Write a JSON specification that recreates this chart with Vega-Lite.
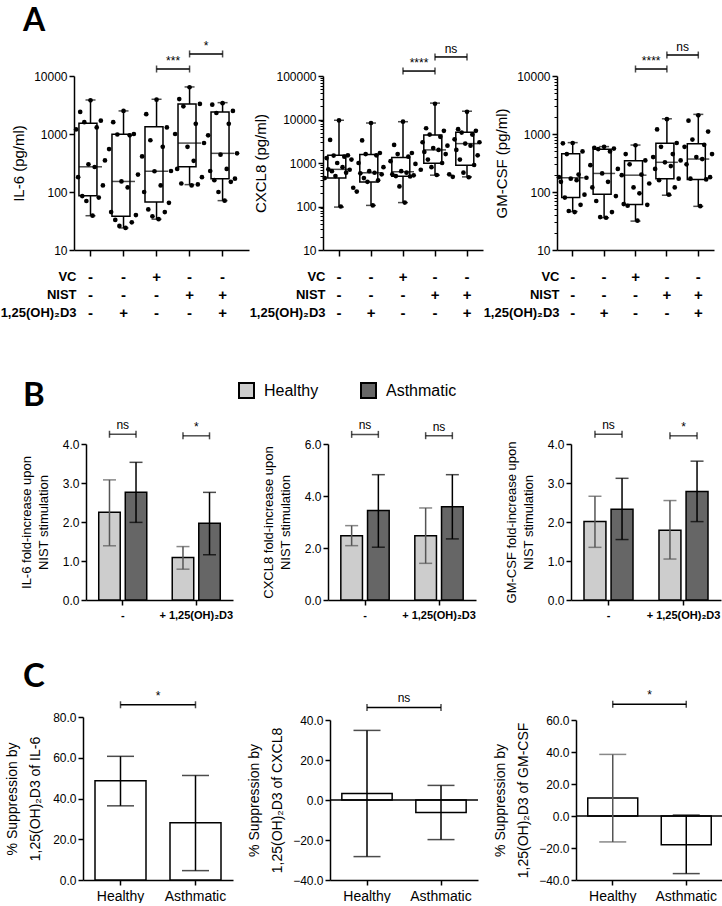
{
"$schema": "https://vega.github.io/schema/vega-lite/v6.json",
"background": "white",
"padding": {"left": 0, "top": 4, "right": 0, "bottom": 0},
"columns": 3,
"bounds": "flush",
"align": "each",
"spacing": {"row": 18, "column": 74},
"resolve": {"scale": {"x": "independent", "y": "independent", "xOffset": "independent", "color": "shared"}},
"datasets": {
"box": [
{"c":"IL6","g":"1","min":39,"q1":86,"med":272,"q3":1530,"max":3860},
{"c":"IL6","g":"2","min":24,"q1":38,"med":152,"q3":990,"max":2500},
{"c":"IL6","g":"3","min":34,"q1":67,"med":228,"q3":1336,"max":3970},
{"c":"IL6","g":"4","min":134,"q1":272,"med":697,"q3":3280,"max":6480},
{"c":"IL6","g":"5","min":71,"q1":169,"med":464,"q3":2400,"max":3470},
{"c":"CX","g":"1","min":97,"q1":454,"med":714,"q3":1500,"max":9600},
{"c":"CX","g":"2","min":106,"q1":364,"med":596,"q3":1560,"max":8300},
{"c":"CX","g":"3","min":123,"q1":497,"med":630,"q3":1340,"max":8900},
{"c":"CX","g":"4","min":525,"q1":990,"med":2000,"q3":4380,"max":23800},
{"c":"CX","g":"5","min":480,"q1":890,"med":2790,"q3":5080,"max":15500},
{"c":"GM","g":"1","min":46,"q1":80,"med":176,"q3":455,"max":710},
{"c":"GM","g":"2","min":36,"q1":91.5,"med":209,"q3":546,"max":606},
{"c":"GM","g":"3","min":31.5,"q1":61,"med":195,"q3":346,"max":645},
{"c":"GM","g":"4","min":88,"q1":169,"med":325,"q3":690,"max":1830},
{"c":"GM","g":"5","min":56.6,"q1":165,"med":370,"q3":677,"max":2180}
],
"pts": [
{"c":"IL6","g":"1","d":9,"v":3800},{"c":"IL6","g":"1","d":4,"v":2400},{"c":"IL6","g":"1","d":14,"v":1700},{"c":"IL6","g":"1","d":6,"v":1600},{"c":"IL6","g":"1","d":12,"v":1300},{"c":"IL6","g":"1","d":2,"v":1200},{"c":"IL6","g":"1","d":16,"v":350},{"c":"IL6","g":"1","d":8,"v":300},{"c":"IL6","g":"1","d":11,"v":270},{"c":"IL6","g":"1","d":3,"v":180},{"c":"IL6","g":"1","d":15,"v":130},{"c":"IL6","g":"1","d":5,"v":85},{"c":"IL6","g":"1","d":13,"v":80},{"c":"IL6","g":"1","d":7,"v":70},{"c":"IL6","g":"1","d":10,"v":39},
{"c":"IL6","g":"2","d":9,"v":2500},{"c":"IL6","g":"2","d":4,"v":1600},{"c":"IL6","g":"2","d":14,"v":1000},{"c":"IL6","g":"2","d":6,"v":980},{"c":"IL6","g":"2","d":12,"v":950},{"c":"IL6","g":"2","d":2,"v":550},{"c":"IL6","g":"2","d":16,"v":200},{"c":"IL6","g":"2","d":8,"v":152},{"c":"IL6","g":"2","d":11,"v":120},{"c":"IL6","g":"2","d":3,"v":45},{"c":"IL6","g":"2","d":15,"v":40},{"c":"IL6","g":"2","d":5,"v":33},{"c":"IL6","g":"2","d":13,"v":30},{"c":"IL6","g":"2","d":7,"v":26},{"c":"IL6","g":"2","d":10,"v":24},
{"c":"IL6","g":"3","d":9,"v":3900},{"c":"IL6","g":"3","d":4,"v":2200},{"c":"IL6","g":"3","d":14,"v":1300},{"c":"IL6","g":"3","d":6,"v":780},{"c":"IL6","g":"3","d":12,"v":600},{"c":"IL6","g":"3","d":2,"v":410},{"c":"IL6","g":"3","d":16,"v":230},{"c":"IL6","g":"3","d":8,"v":228},{"c":"IL6","g":"3","d":11,"v":130},{"c":"IL6","g":"3","d":3,"v":100},{"c":"IL6","g":"3","d":15,"v":65},{"c":"IL6","g":"3","d":5,"v":50},{"c":"IL6","g":"3","d":13,"v":45},{"c":"IL6","g":"3","d":7,"v":38},{"c":"IL6","g":"3","d":10,"v":34},
{"c":"IL6","g":"4","d":9,"v":6400},{"c":"IL6","g":"4","d":4,"v":4000},{"c":"IL6","g":"4","d":14,"v":3300},{"c":"IL6","g":"4","d":6,"v":3000},{"c":"IL6","g":"4","d":12,"v":1500},{"c":"IL6","g":"4","d":2,"v":1000},{"c":"IL6","g":"4","d":16,"v":700},{"c":"IL6","g":"4","d":8,"v":600},{"c":"IL6","g":"4","d":11,"v":345},{"c":"IL6","g":"4","d":3,"v":250},{"c":"IL6","g":"4","d":15,"v":180},{"c":"IL6","g":"4","d":5,"v":140},{"c":"IL6","g":"4","d":13,"v":135},{"c":"IL6","g":"4","d":10,"v":130},
{"c":"IL6","g":"5","d":9,"v":3400},{"c":"IL6","g":"5","d":4,"v":3200},{"c":"IL6","g":"5","d":14,"v":2500},{"c":"IL6","g":"5","d":6,"v":2300},{"c":"IL6","g":"5","d":12,"v":1500},{"c":"IL6","g":"5","d":2,"v":950},{"c":"IL6","g":"5","d":16,"v":464},{"c":"IL6","g":"5","d":8,"v":440},{"c":"IL6","g":"5","d":11,"v":250},{"c":"IL6","g":"5","d":3,"v":230},{"c":"IL6","g":"5","d":15,"v":170},{"c":"IL6","g":"5","d":5,"v":160},{"c":"IL6","g":"5","d":13,"v":150},{"c":"IL6","g":"5","d":7,"v":100},{"c":"IL6","g":"5","d":10,"v":71},
{"c":"CX","g":"1","d":9,"v":9500},{"c":"CX","g":"1","d":4,"v":3400},{"c":"CX","g":"1","d":14,"v":1500},{"c":"CX","g":"1","d":6,"v":1480},{"c":"CX","g":"1","d":12,"v":1400},{"c":"CX","g":"1","d":2,"v":1300},{"c":"CX","g":"1","d":16,"v":1200},{"c":"CX","g":"1","d":8,"v":1000},{"c":"CX","g":"1","d":11,"v":800},{"c":"CX","g":"1","d":3,"v":714},{"c":"CX","g":"1","d":15,"v":700},{"c":"CX","g":"1","d":5,"v":650},{"c":"CX","g":"1","d":13,"v":600},{"c":"CX","g":"1","d":7,"v":500},{"c":"CX","g":"1","d":1,"v":450},{"c":"CX","g":"1","d":17,"v":270},{"c":"CX","g":"1","d":10,"v":100},
{"c":"CX","g":"2","d":9,"v":8300},{"c":"CX","g":"2","d":4,"v":3300},{"c":"CX","g":"2","d":14,"v":1700},{"c":"CX","g":"2","d":6,"v":1600},{"c":"CX","g":"2","d":12,"v":1500},{"c":"CX","g":"2","d":2,"v":1000},{"c":"CX","g":"2","d":16,"v":800},{"c":"CX","g":"2","d":8,"v":650},{"c":"CX","g":"2","d":11,"v":596},{"c":"CX","g":"2","d":3,"v":580},{"c":"CX","g":"2","d":15,"v":550},{"c":"CX","g":"2","d":5,"v":450},{"c":"CX","g":"2","d":13,"v":400},{"c":"CX","g":"2","d":7,"v":370},{"c":"CX","g":"2","d":1,"v":220},{"c":"CX","g":"2","d":10,"v":106},
{"c":"CX","g":"3","d":9,"v":8900},{"c":"CX","g":"3","d":4,"v":2600},{"c":"CX","g":"3","d":14,"v":1700},{"c":"CX","g":"3","d":6,"v":1600},{"c":"CX","g":"3","d":12,"v":1400},{"c":"CX","g":"3","d":2,"v":1100},{"c":"CX","g":"3","d":16,"v":950},{"c":"CX","g":"3","d":8,"v":650},{"c":"CX","g":"3","d":11,"v":600},{"c":"CX","g":"3","d":3,"v":550},{"c":"CX","g":"3","d":15,"v":520},{"c":"CX","g":"3","d":5,"v":500},{"c":"CX","g":"3","d":13,"v":490},{"c":"CX","g":"3","d":7,"v":290},{"c":"CX","g":"3","d":10,"v":123},
{"c":"CX","g":"4","d":9,"v":23000},{"c":"CX","g":"4","d":4,"v":6300},{"c":"CX","g":"4","d":14,"v":5500},{"c":"CX","g":"4","d":6,"v":4500},{"c":"CX","g":"4","d":12,"v":4000},{"c":"CX","g":"4","d":2,"v":3000},{"c":"CX","g":"4","d":16,"v":2500},{"c":"CX","g":"4","d":8,"v":2200},{"c":"CX","g":"4","d":11,"v":2000},{"c":"CX","g":"4","d":3,"v":1800},{"c":"CX","g":"4","d":15,"v":1600},{"c":"CX","g":"4","d":5,"v":1200},{"c":"CX","g":"4","d":13,"v":1000},{"c":"CX","g":"4","d":7,"v":800},{"c":"CX","g":"4","d":1,"v":700},{"c":"CX","g":"4","d":17,"v":550},{"c":"CX","g":"4","d":10,"v":530},
{"c":"CX","g":"5","d":9,"v":15000},{"c":"CX","g":"5","d":4,"v":6000},{"c":"CX","g":"5","d":14,"v":5500},{"c":"CX","g":"5","d":6,"v":5000},{"c":"CX","g":"5","d":12,"v":4500},{"c":"CX","g":"5","d":2,"v":3500},{"c":"CX","g":"5","d":16,"v":3000},{"c":"CX","g":"5","d":8,"v":2800},{"c":"CX","g":"5","d":11,"v":2500},{"c":"CX","g":"5","d":3,"v":2000},{"c":"CX","g":"5","d":15,"v":1500},{"c":"CX","g":"5","d":5,"v":1200},{"c":"CX","g":"5","d":13,"v":900},{"c":"CX","g":"5","d":7,"v":600},{"c":"CX","g":"5","d":1,"v":480},{"c":"CX","g":"5","d":10,"v":470},
{"c":"GM","g":"1","d":9,"v":700},{"c":"GM","g":"1","d":4,"v":690},{"c":"GM","g":"1","d":14,"v":500},{"c":"GM","g":"1","d":6,"v":450},{"c":"GM","g":"1","d":12,"v":200},{"c":"GM","g":"1","d":2,"v":180},{"c":"GM","g":"1","d":16,"v":176},{"c":"GM","g":"1","d":8,"v":170},{"c":"GM","g":"1","d":11,"v":160},{"c":"GM","g":"1","d":3,"v":150},{"c":"GM","g":"1","d":15,"v":90},{"c":"GM","g":"1","d":5,"v":80},{"c":"GM","g":"1","d":13,"v":60},{"c":"GM","g":"1","d":7,"v":47},{"c":"GM","g":"1","d":10,"v":45},
{"c":"GM","g":"2","d":9,"v":600},{"c":"GM","g":"2","d":4,"v":580},{"c":"GM","g":"2","d":14,"v":560},{"c":"GM","g":"2","d":6,"v":550},{"c":"GM","g":"2","d":12,"v":500},{"c":"GM","g":"2","d":2,"v":290},{"c":"GM","g":"2","d":16,"v":250},{"c":"GM","g":"2","d":8,"v":209},{"c":"GM","g":"2","d":11,"v":150},{"c":"GM","g":"2","d":3,"v":120},{"c":"GM","g":"2","d":15,"v":85},{"c":"GM","g":"2","d":5,"v":70},{"c":"GM","g":"2","d":13,"v":45},{"c":"GM","g":"2","d":7,"v":37},{"c":"GM","g":"2","d":10,"v":36},
{"c":"GM","g":"3","d":9,"v":640},{"c":"GM","g":"3","d":4,"v":450},{"c":"GM","g":"3","d":14,"v":350},{"c":"GM","g":"3","d":6,"v":300},{"c":"GM","g":"3","d":12,"v":200},{"c":"GM","g":"3","d":2,"v":195},{"c":"GM","g":"3","d":16,"v":140},{"c":"GM","g":"3","d":8,"v":120},{"c":"GM","g":"3","d":11,"v":95},{"c":"GM","g":"3","d":3,"v":62},{"c":"GM","g":"3","d":15,"v":60},{"c":"GM","g":"3","d":5,"v":58},{"c":"GM","g":"3","d":10,"v":32},
{"c":"GM","g":"4","d":9,"v":1800},{"c":"GM","g":"4","d":4,"v":1200},{"c":"GM","g":"4","d":14,"v":700},{"c":"GM","g":"4","d":6,"v":600},{"c":"GM","g":"4","d":12,"v":450},{"c":"GM","g":"4","d":2,"v":400},{"c":"GM","g":"4","d":16,"v":350},{"c":"GM","g":"4","d":8,"v":325},{"c":"GM","g":"4","d":11,"v":280},{"c":"GM","g":"4","d":3,"v":250},{"c":"GM","g":"4","d":15,"v":170},{"c":"GM","g":"4","d":5,"v":160},{"c":"GM","g":"4","d":13,"v":120},{"c":"GM","g":"4","d":10,"v":90},
{"c":"GM","g":"5","d":9,"v":2100},{"c":"GM","g":"5","d":4,"v":1700},{"c":"GM","g":"5","d":14,"v":1100},{"c":"GM","g":"5","d":6,"v":800},{"c":"GM","g":"5","d":12,"v":650},{"c":"GM","g":"5","d":2,"v":600},{"c":"GM","g":"5","d":16,"v":450},{"c":"GM","g":"5","d":8,"v":400},{"c":"GM","g":"5","d":11,"v":370},{"c":"GM","g":"5","d":3,"v":300},{"c":"GM","g":"5","d":15,"v":180},{"c":"GM","g":"5","d":5,"v":170},{"c":"GM","g":"5","d":13,"v":165},{"c":"GM","g":"5","d":10,"v":57}
],
"sigA": [
{"c":"IL6","from":"3","to":"4","y":13200,"lab":"***"},
{"c":"IL6","from":"4","to":"5","y":24000,"lab":"*"},
{"c":"CX","from":"3","to":"4","y":130000,"lab":"****"},
{"c":"CX","from":"4","to":"5","y":274000,"lab":"ns"},
{"c":"GM","from":"3","to":"4","y":13200,"lab":"****"},
{"c":"GM","from":"4","to":"5","y":23000,"lab":"ns"}
],
"tbl": [
{"g":"1","r":"VC","s":"-"},{"g":"2","r":"VC","s":"-"},{"g":"3","r":"VC","s":"+"},{"g":"4","r":"VC","s":"-"},{"g":"5","r":"VC","s":"-"},
{"g":"1","r":"NIST","s":"-"},{"g":"2","r":"NIST","s":"-"},{"g":"3","r":"NIST","s":"-"},{"g":"4","r":"NIST","s":"+"},{"g":"5","r":"NIST","s":"+"},
{"g":"1","r":"1,25(OH)₂D3","s":"-"},{"g":"2","r":"1,25(OH)₂D3","s":"+"},{"g":"3","r":"1,25(OH)₂D3","s":"-"},{"g":"4","r":"1,25(OH)₂D3","s":"-"},{"g":"5","r":"1,25(OH)₂D3","s":"+"}
],
"fold": [
{"c":"IL6","t":"-","grp":"Healthy","m":2.25,"lo":1.39,"hi":3.08},
{"c":"IL6","t":"-","grp":"Asthmatic","m":2.76,"lo":1.99,"hi":3.53},
{"c":"IL6","t":"+ 1,25(OH)₂D3","grp":"Healthy","m":1.09,"lo":0.79,"hi":1.37},
{"c":"IL6","t":"+ 1,25(OH)₂D3","grp":"Asthmatic","m":1.97,"lo":1.16,"hi":2.76},
{"c":"CX","t":"-","grp":"Healthy","m":2.47,"lo":2.09,"hi":2.86},
{"c":"CX","t":"-","grp":"Asthmatic","m":3.44,"lo":2.03,"hi":4.82},
{"c":"CX","t":"+ 1,25(OH)₂D3","grp":"Healthy","m":2.47,"lo":1.41,"hi":3.54},
{"c":"CX","t":"+ 1,25(OH)₂D3","grp":"Asthmatic","m":3.59,"lo":2.35,"hi":4.82},
{"c":"GM","t":"-","grp":"Healthy","m":2.01,"lo":1.35,"hi":2.66},
{"c":"GM","t":"-","grp":"Asthmatic","m":2.33,"lo":1.55,"hi":3.12},
{"c":"GM","t":"+ 1,25(OH)₂D3","grp":"Healthy","m":1.79,"lo":1.05,"hi":2.55},
{"c":"GM","t":"+ 1,25(OH)₂D3","grp":"Asthmatic","m":2.78,"lo":2.01,"hi":3.56}
],
"sigB": [
{"c":"IL6","t":"-","grp":"Healthy","y":4.25,"lab":"ns"},
{"c":"IL6","t":"-","grp":"Asthmatic","y":4.25,"lab":"ns"},
{"c":"IL6","t":"+ 1,25(OH)₂D3","grp":"Healthy","y":4.21,"lab":"*"},
{"c":"IL6","t":"+ 1,25(OH)₂D3","grp":"Asthmatic","y":4.21,"lab":"*"},
{"c":"CX","t":"-","grp":"Healthy","y":6.37,"lab":"ns"},
{"c":"CX","t":"-","grp":"Asthmatic","y":6.37,"lab":"ns"},
{"c":"CX","t":"+ 1,25(OH)₂D3","grp":"Healthy","y":6.32,"lab":"ns"},
{"c":"CX","t":"+ 1,25(OH)₂D3","grp":"Asthmatic","y":6.32,"lab":"ns"},
{"c":"GM","t":"-","grp":"Healthy","y":4.25,"lab":"ns"},
{"c":"GM","t":"-","grp":"Asthmatic","y":4.25,"lab":"ns"},
{"c":"GM","t":"+ 1,25(OH)₂D3","grp":"Healthy","y":4.21,"lab":"*"},
{"c":"GM","t":"+ 1,25(OH)₂D3","grp":"Asthmatic","y":4.21,"lab":"*"}
],
"supp": [
{"c":"IL6","grp":"Healthy","m":48.7,"lo":36.4,"hi":60.7},
{"c":"IL6","grp":"Asthmatic","m":28.1,"lo":4.6,"hi":51.3},
{"c":"CX","grp":"Healthy","m":3.3,"lo":-28.3,"hi":34.8},
{"c":"CX","grp":"Asthmatic","m":-6.3,"lo":-19.8,"hi":7.3},
{"c":"GM","grp":"Healthy","m":11.2,"lo":-16.2,"hi":38.5},
{"c":"GM","grp":"Asthmatic","m":-17.9,"lo":-36,"hi":0.6}
],
"sigC": [
{"c":"IL6","from":"Healthy","to":"Asthmatic","y":86,"lab":"*"},
{"c":"CX","from":"Healthy","to":"Asthmatic","y":46.3,"lab":"ns"},
{"c":"GM","from":"Healthy","to":"Asthmatic","y":69.8,"lab":"*"}
]
},
"concat": [
{
"width": 175, "height": 174,
"title": {"text": "A", "anchor": "start", "frame": "group", "font": "Lato", "fontSize": 32, "fontWeight": "bold", "color": "black", "offset": 0, "dx": -51, "dy": 23, "baseline": "alphabetic"},
"layer": [
{"data": {"name": "box"}, "transform": [{"filter": "datum.c === 'IL6'"}], "mark": {"type": "rule", "strokeWidth": 1.5, "color": "black"},
 "encoding": {"x": {"field": "g", "type": "ordinal", "scale": {"type": "band", "paddingInner": 0, "paddingOuter": 0.15, "align": 0}, "axis": {"labels": false, "title": null, "tickSize": 6}},
  "y": {"field": "min", "type": "quantitative", "scale": {"type": "log", "domain": [10, 10000], "nice": false}, "axis": {"values": [10, 100, 1000, 10000], "format": "d", "title": "IL-6 (pg/ml)", "titleFontSize": 15, "titlePadding": 7}},
  "y2": {"field": "max"}}},
{"data": {"name": "box"}, "transform": [{"filter": "datum.c === 'IL6'"}], "mark": {"type": "tick", "orient": "horizontal", "size": 10, "thickness": 1.5, "color": "black"}, "encoding": {"x": {"field": "g", "type": "ordinal"}, "y": {"field": "min", "type": "quantitative"}}},
{"data": {"name": "box"}, "transform": [{"filter": "datum.c === 'IL6'"}], "mark": {"type": "tick", "orient": "horizontal", "size": 10, "thickness": 1.5, "color": "black"}, "encoding": {"x": {"field": "g", "type": "ordinal"}, "y": {"field": "max", "type": "quantitative"}}},
{"data": {"name": "box"}, "transform": [{"filter": "datum.c === 'IL6'"}], "mark": {"type": "bar", "fill": "white", "stroke": "black", "strokeWidth": 1.5, "width": {"band": 0.7}}, "encoding": {"x": {"field": "g", "type": "ordinal"}, "y": {"field": "q1", "type": "quantitative"}, "y2": {"field": "q3"}}},
{"data": {"name": "box"}, "transform": [{"filter": "datum.c === 'IL6'"}], "mark": {"type": "tick", "orient": "horizontal", "size": 23, "thickness": 1.5, "color": "black"}, "encoding": {"x": {"field": "g", "type": "ordinal"}, "y": {"field": "med", "type": "quantitative"}}},
{"data": {"name": "pts"}, "transform": [{"filter": "datum.c === 'IL6'"}], "mark": {"type": "circle", "size": 22, "color": "black", "opacity": 1}, "encoding": {"x": {"field": "g", "type": "ordinal"}, "xOffset": {"field": "d", "type": "ordinal", "scale": {"paddingOuter": 4}}, "y": {"field": "v", "type": "quantitative"}}},
{"data": {"name": "sigA"}, "transform": [{"filter": "datum.c === 'IL6'"}], "mark": {"type": "rule", "strokeWidth": 1.5, "color": "black"}, "encoding": {"x": {"field": "from", "type": "ordinal", "bandPosition": 0.5}, "x2": {"field": "to", "bandPosition": 0.5}, "y": {"field": "y", "type": "quantitative"}}},
{"data": {"name": "sigA"}, "transform": [{"filter": "datum.c === 'IL6'"}], "mark": {"type": "tick", "orient": "vertical", "size": 7, "thickness": 1.5, "color": "black"}, "encoding": {"x": {"field": "from", "type": "ordinal"}, "y": {"field": "y", "type": "quantitative"}}},
{"data": {"name": "sigA"}, "transform": [{"filter": "datum.c === 'IL6'"}], "mark": {"type": "tick", "orient": "vertical", "size": 7, "thickness": 1.5, "color": "black"}, "encoding": {"x": {"field": "to", "type": "ordinal"}, "y": {"field": "y", "type": "quantitative"}}},
{"data": {"name": "sigA"}, "transform": [{"filter": "datum.c === 'IL6'"}], "mark": {"type": "text", "baseline": "bottom", "dy": -1, "fontSize": 12, "color": "black"}, "encoding": {"x": {"field": "from", "type": "ordinal", "bandPosition": 1}, "y": {"field": "y", "type": "quantitative"}, "text": {"field": "lab"}}}
]
},
{
"width": 160, "height": 174,
"layer": [
{"data": {"name": "box"}, "transform": [{"filter": "datum.c === 'CX'"}], "mark": {"type": "rule", "strokeWidth": 1.5, "color": "black"},
 "encoding": {"x": {"field": "g", "type": "ordinal", "scale": {"type": "band", "paddingInner": 0, "paddingOuter": 0, "align": 0}, "axis": {"labels": false, "title": null, "tickSize": 6}},
  "y": {"field": "min", "type": "quantitative", "scale": {"type": "log", "domain": [10, 100000], "nice": false}, "axis": {"values": [10,20,30,40,50,60,70,80,90,100,200,300,400,500,600,700,800,900,1000,2000,3000,4000,5000,6000,7000,8000,9000,10000,20000,30000,40000,50000,60000,70000,80000,90000,100000], "format": "d", "labelExpr": "indexof([10,100,1000,10000,100000], datum.value) >= 0 ? datum.label : ''", "tickSize": {"condition": {"test": "indexof([10,100,1000,10000,100000], datum.value) >= 0", "value": 5}, "value": 3}, "tickWidth": {"condition": {"test": "indexof([10,100,1000,10000,100000], datum.value) >= 0", "value": 1.5}, "value": 1}, "title": "CXCL8 (pg/ml)", "titleFontSize": 15, "titlePadding": 7}},
  "y2": {"field": "max"}}},
{"data": {"name": "box"}, "transform": [{"filter": "datum.c === 'CX'"}], "mark": {"type": "tick", "orient": "horizontal", "size": 10, "thickness": 1.5, "color": "black"}, "encoding": {"x": {"field": "g", "type": "ordinal"}, "y": {"field": "min", "type": "quantitative"}}},
{"data": {"name": "box"}, "transform": [{"filter": "datum.c === 'CX'"}], "mark": {"type": "tick", "orient": "horizontal", "size": 10, "thickness": 1.5, "color": "black"}, "encoding": {"x": {"field": "g", "type": "ordinal"}, "y": {"field": "max", "type": "quantitative"}}},
{"data": {"name": "box"}, "transform": [{"filter": "datum.c === 'CX'"}], "mark": {"type": "bar", "fill": "white", "stroke": "black", "strokeWidth": 1.5, "width": {"band": 0.7}}, "encoding": {"x": {"field": "g", "type": "ordinal"}, "y": {"field": "q1", "type": "quantitative"}, "y2": {"field": "q3"}}},
{"data": {"name": "box"}, "transform": [{"filter": "datum.c === 'CX'"}], "mark": {"type": "tick", "orient": "horizontal", "size": 22, "thickness": 1.5, "color": "black"}, "encoding": {"x": {"field": "g", "type": "ordinal"}, "y": {"field": "med", "type": "quantitative"}}},
{"data": {"name": "pts"}, "transform": [{"filter": "datum.c === 'CX'"}], "mark": {"type": "circle", "size": 22, "color": "black", "opacity": 1}, "encoding": {"x": {"field": "g", "type": "ordinal"}, "xOffset": {"field": "d", "type": "ordinal", "scale": {"paddingOuter": 4}}, "y": {"field": "v", "type": "quantitative"}}},
{"data": {"name": "sigA"}, "transform": [{"filter": "datum.c === 'CX'"}], "mark": {"type": "rule", "strokeWidth": 1.5, "color": "black"}, "encoding": {"x": {"field": "from", "type": "ordinal", "bandPosition": 0.5}, "x2": {"field": "to", "bandPosition": 0.5}, "y": {"field": "y", "type": "quantitative"}}},
{"data": {"name": "sigA"}, "transform": [{"filter": "datum.c === 'CX'"}], "mark": {"type": "tick", "orient": "vertical", "size": 7, "thickness": 1.5, "color": "black"}, "encoding": {"x": {"field": "from", "type": "ordinal"}, "y": {"field": "y", "type": "quantitative"}}},
{"data": {"name": "sigA"}, "transform": [{"filter": "datum.c === 'CX'"}], "mark": {"type": "tick", "orient": "vertical", "size": 7, "thickness": 1.5, "color": "black"}, "encoding": {"x": {"field": "to", "type": "ordinal"}, "y": {"field": "y", "type": "quantitative"}}},
{"data": {"name": "sigA"}, "transform": [{"filter": "datum.c === 'CX'"}], "mark": {"type": "text", "baseline": "bottom", "dy": -1, "fontSize": 12, "color": "black"}, "encoding": {"x": {"field": "from", "type": "ordinal", "bandPosition": 1}, "y": {"field": "y", "type": "quantitative"}, "text": {"field": "lab"}}}
]
},
{
"width": 157, "height": 174,
"layer": [
{"data": {"name": "box"}, "transform": [{"filter": "datum.c === 'GM'"}], "mark": {"type": "rule", "strokeWidth": 1.5, "color": "black"},
 "encoding": {"x": {"field": "g", "type": "ordinal", "scale": {"type": "band", "paddingInner": 0, "paddingOuter": 0, "align": 0}, "axis": {"labels": false, "title": null, "tickSize": 6}},
  "y": {"field": "min", "type": "quantitative", "scale": {"type": "log", "domain": [10, 10000], "nice": false}, "axis": {"values": [10,20,30,40,50,60,70,80,90,100,200,300,400,500,600,700,800,900,1000,2000,3000,4000,5000,6000,7000,8000,9000,10000], "format": "d", "labelExpr": "indexof([10,100,1000,10000], datum.value) >= 0 ? datum.label : ''", "tickSize": {"condition": {"test": "indexof([10,100,1000,10000], datum.value) >= 0", "value": 5}, "value": 3}, "tickWidth": {"condition": {"test": "indexof([10,100,1000,10000], datum.value) >= 0", "value": 1.5}, "value": 1}, "title": "GM-CSF (pg/ml)", "titleFontSize": 15, "titlePadding": 7}},
  "y2": {"field": "max"}}},
{"data": {"name": "box"}, "transform": [{"filter": "datum.c === 'GM'"}], "mark": {"type": "tick", "orient": "horizontal", "size": 10, "thickness": 1.5, "color": "black"}, "encoding": {"x": {"field": "g", "type": "ordinal"}, "y": {"field": "min", "type": "quantitative"}}},
{"data": {"name": "box"}, "transform": [{"filter": "datum.c === 'GM'"}], "mark": {"type": "tick", "orient": "horizontal", "size": 10, "thickness": 1.5, "color": "black"}, "encoding": {"x": {"field": "g", "type": "ordinal"}, "y": {"field": "max", "type": "quantitative"}}},
{"data": {"name": "box"}, "transform": [{"filter": "datum.c === 'GM'"}], "mark": {"type": "bar", "fill": "white", "stroke": "black", "strokeWidth": 1.5, "width": {"band": 0.7}}, "encoding": {"x": {"field": "g", "type": "ordinal"}, "y": {"field": "q1", "type": "quantitative"}, "y2": {"field": "q3"}}},
{"data": {"name": "box"}, "transform": [{"filter": "datum.c === 'GM'"}], "mark": {"type": "tick", "orient": "horizontal", "size": 22, "thickness": 1.5, "color": "black"}, "encoding": {"x": {"field": "g", "type": "ordinal"}, "y": {"field": "med", "type": "quantitative"}}},
{"data": {"name": "pts"}, "transform": [{"filter": "datum.c === 'GM'"}], "mark": {"type": "circle", "size": 22, "color": "black", "opacity": 1}, "encoding": {"x": {"field": "g", "type": "ordinal"}, "xOffset": {"field": "d", "type": "ordinal", "scale": {"paddingOuter": 4}}, "y": {"field": "v", "type": "quantitative"}}},
{"data": {"name": "sigA"}, "transform": [{"filter": "datum.c === 'GM'"}], "mark": {"type": "rule", "strokeWidth": 1.5, "color": "black"}, "encoding": {"x": {"field": "from", "type": "ordinal", "bandPosition": 0.5}, "x2": {"field": "to", "bandPosition": 0.5}, "y": {"field": "y", "type": "quantitative"}}},
{"data": {"name": "sigA"}, "transform": [{"filter": "datum.c === 'GM'"}], "mark": {"type": "tick", "orient": "vertical", "size": 7, "thickness": 1.5, "color": "black"}, "encoding": {"x": {"field": "from", "type": "ordinal"}, "y": {"field": "y", "type": "quantitative"}}},
{"data": {"name": "sigA"}, "transform": [{"filter": "datum.c === 'GM'"}], "mark": {"type": "tick", "orient": "vertical", "size": 7, "thickness": 1.5, "color": "black"}, "encoding": {"x": {"field": "to", "type": "ordinal"}, "y": {"field": "y", "type": "quantitative"}}},
{"data": {"name": "sigA"}, "transform": [{"filter": "datum.c === 'GM'"}], "mark": {"type": "text", "baseline": "bottom", "dy": -1, "fontSize": 12, "color": "black"}, "encoding": {"x": {"field": "from", "type": "ordinal", "bandPosition": 1}, "y": {"field": "y", "type": "quantitative"}, "text": {"field": "lab"}}}
]
},
{"width": 175, "height": 54, "data": {"name": "tbl"}, "mark": {"type": "text", "fontWeight": "bold", "fontSize": 15, "color": "black"},
 "encoding": {"x": {"field": "g", "type": "ordinal", "scale": {"type": "band", "paddingInner": 0, "paddingOuter": 0.15, "align": 0}, "axis": null},
  "y": {"field": "r", "type": "nominal", "scale": {"type": "band", "domain": ["VC", "NIST", "1,25(OH)₂D3"], "paddingInner": 0, "paddingOuter": 0}, "axis": {"title": null, "domain": false, "ticks": false, "labelFontWeight": "bold", "labelFontSize": 13, "labelPadding": -2}},
  "text": {"field": "s"}}},
{"width": 160, "height": 54, "data": {"name": "tbl"}, "mark": {"type": "text", "fontWeight": "bold", "fontSize": 15, "color": "black"},
 "encoding": {"x": {"field": "g", "type": "ordinal", "scale": {"type": "band", "paddingInner": 0, "paddingOuter": 0, "align": 0}, "axis": null},
  "y": {"field": "r", "type": "nominal", "scale": {"type": "band", "domain": ["VC", "NIST", "1,25(OH)₂D3"], "paddingInner": 0, "paddingOuter": 0}, "axis": {"title": null, "domain": false, "ticks": false, "labelFontWeight": "bold", "labelFontSize": 13, "labelPadding": -2}},
  "text": {"field": "s"}}},
{"width": 157, "height": 54, "data": {"name": "tbl"}, "mark": {"type": "text", "fontWeight": "bold", "fontSize": 15, "color": "black"},
 "encoding": {"x": {"field": "g", "type": "ordinal", "scale": {"type": "band", "paddingInner": 0, "paddingOuter": 0, "align": 0}, "axis": null},
  "y": {"field": "r", "type": "nominal", "scale": {"type": "band", "domain": ["VC", "NIST", "1,25(OH)₂D3"], "paddingInner": 0, "paddingOuter": 0}, "axis": {"title": null, "domain": false, "ticks": false, "labelFontWeight": "bold", "labelFontSize": 13, "labelPadding": -2}},
  "text": {"field": "s"}}},
{
"width": 159, "height": 260,
"title": {"text": "B", "anchor": "start", "frame": "group", "font": "Lato", "fontSize": 33, "fontWeight": "bold", "color": "black", "offset": 0, "dx": -51, "dy": 99, "baseline": "alphabetic"},
"layer": [
{"data": {"name": "fold"}, "transform": [{"filter": "datum.c === 'IL6'"}], "mark": {"type": "bar", "stroke": "black", "strokeWidth": 1.5},
 "encoding": {"x": {"field": "t", "type": "nominal", "scale": {"domain": ["-", "+ 1,25(OH)₂D3"], "range": [12, 159], "paddingInner": 0, "paddingOuter": 0}, "axis": {"title": null, "labelAngle": 0, "labelFontWeight": "bold", "labelFontSize": 11, "labelPadding": 4}},
  "xOffset": {"field": "grp", "type": "nominal", "scale": {"domain": ["Healthy", "Asthmatic"], "paddingInner": 0.19, "paddingOuter": 0.48}},
  "y": {"field": "m", "type": "quantitative", "scale": {"domain": [0, 4], "range": [260, 104], "nice": false}, "axis": {"values": [0, 1, 2, 3, 4], "format": ".1f", "offset": -12, "title": ["IL-6 fold-increase upon", "NIST stimulation"], "titleFontSize": 13, "titleLineHeight": 17, "titlePadding": 12}},
  "color": {"field": "grp", "type": "nominal", "scale": {"domain": ["Healthy", "Asthmatic"], "range": ["#cdcdcd", "#666666"]},
   "legend": {"orient": "none", "legendX": 164, "legendY": 306, "direction": "horizontal", "title": null, "symbolType": "square", "symbolSize": 225, "symbolStrokeColor": "black", "symbolStrokeWidth": 2, "symbolOpacity": 1, "labelFontSize": 16, "labelColor": "black", "labelFont": "Liberation Sans", "columnPadding": 38, "labelOffset": 9, "padding": 0}}}},
{"data": {"name": "fold"}, "transform": [{"filter": "datum.c === 'IL6'"}], "mark": {"type": "rule", "strokeWidth": 1.5},
 "encoding": {"x": {"field": "t", "type": "nominal"}, "xOffset": {"field": "grp", "type": "nominal"}, "y": {"field": "lo", "type": "quantitative"}, "y2": {"field": "hi"}, "stroke": {"condition": {"test": "datum.grp === 'Healthy'", "value": "#555555"}, "value": "black"}}},
{"data": {"name": "fold"}, "transform": [{"filter": "datum.c === 'IL6'"}], "mark": {"type": "tick", "orient": "horizontal", "size": 13, "thickness": 1.5},
 "encoding": {"x": {"field": "t", "type": "nominal"}, "xOffset": {"field": "grp", "type": "nominal"}, "y": {"field": "lo", "type": "quantitative"}, "fill": {"condition": {"test": "datum.grp === 'Healthy'", "value": "#555555"}, "value": "black"}}},
{"data": {"name": "fold"}, "transform": [{"filter": "datum.c === 'IL6'"}], "mark": {"type": "tick", "orient": "horizontal", "size": 13, "thickness": 1.5},
 "encoding": {"x": {"field": "t", "type": "nominal"}, "xOffset": {"field": "grp", "type": "nominal"}, "y": {"field": "hi", "type": "quantitative"}, "fill": {"condition": {"test": "datum.grp === 'Healthy'", "value": "#555555"}, "value": "black"}}},
{"data": {"name": "sigB"}, "transform": [{"filter": "datum.c === 'IL6'"}], "mark": {"type": "tick", "orient": "vertical", "size": 7, "thickness": 1.5, "color": "black"},
 "encoding": {"x": {"field": "t", "type": "nominal"}, "xOffset": {"field": "grp", "type": "nominal"}, "y": {"field": "y", "type": "quantitative"}}},
{"data": {"name": "sigB"}, "transform": [{"filter": "datum.c === 'IL6' && datum.grp === 'Healthy'"}], "mark": {"type": "tick", "orient": "horizontal", "size": 26.5, "thickness": 1.5, "color": "black"},
 "encoding": {"x": {"field": "t", "type": "nominal"}, "y": {"field": "y", "type": "quantitative"}}},
{"data": {"name": "sigB"}, "transform": [{"filter": "datum.c === 'IL6' && datum.grp === 'Healthy'"}], "mark": {"type": "text", "baseline": "bottom", "dy": -2, "fontSize": 12, "color": "black"},
 "encoding": {"x": {"field": "t", "type": "nominal"}, "y": {"field": "y", "type": "quantitative"}, "text": {"field": "lab"}}}
]
},
{
"width": 153, "height": 260,
"layer": [
{"data": {"name": "fold"}, "transform": [{"filter": "datum.c === 'CX'"}], "mark": {"type": "bar", "stroke": "black", "strokeWidth": 1.5},
 "encoding": {"x": {"field": "t", "type": "nominal", "scale": {"domain": ["-", "+ 1,25(OH)₂D3"], "range": [5, 153], "paddingInner": 0, "paddingOuter": 0}, "axis": {"title": null, "labelAngle": 0, "labelFontWeight": "bold", "labelFontSize": 11, "labelPadding": 4}},
  "xOffset": {"field": "grp", "type": "nominal", "scale": {"domain": ["Healthy", "Asthmatic"], "paddingInner": 0.19, "paddingOuter": 0.48}},
  "y": {"field": "m", "type": "quantitative", "scale": {"domain": [0, 6], "range": [260, 104], "nice": false}, "axis": {"values": [0, 2, 4, 6], "format": ".1f", "offset": -5, "title": ["CXCL8 fold-increase upon", "NIST stimulation"], "titleFontSize": 13, "titleLineHeight": 17, "titlePadding": 12}},
  "color": {"field": "grp", "type": "nominal"}}},
{"data": {"name": "fold"}, "transform": [{"filter": "datum.c === 'CX'"}], "mark": {"type": "rule", "strokeWidth": 1.5},
 "encoding": {"x": {"field": "t", "type": "nominal"}, "xOffset": {"field": "grp", "type": "nominal"}, "y": {"field": "lo", "type": "quantitative"}, "y2": {"field": "hi"}, "stroke": {"condition": {"test": "datum.grp === 'Healthy'", "value": "#555555"}, "value": "black"}}},
{"data": {"name": "fold"}, "transform": [{"filter": "datum.c === 'CX'"}], "mark": {"type": "tick", "orient": "horizontal", "size": 13, "thickness": 1.5},
 "encoding": {"x": {"field": "t", "type": "nominal"}, "xOffset": {"field": "grp", "type": "nominal"}, "y": {"field": "lo", "type": "quantitative"}, "fill": {"condition": {"test": "datum.grp === 'Healthy'", "value": "#555555"}, "value": "black"}}},
{"data": {"name": "fold"}, "transform": [{"filter": "datum.c === 'CX'"}], "mark": {"type": "tick", "orient": "horizontal", "size": 13, "thickness": 1.5},
 "encoding": {"x": {"field": "t", "type": "nominal"}, "xOffset": {"field": "grp", "type": "nominal"}, "y": {"field": "hi", "type": "quantitative"}, "fill": {"condition": {"test": "datum.grp === 'Healthy'", "value": "#555555"}, "value": "black"}}},
{"data": {"name": "sigB"}, "transform": [{"filter": "datum.c === 'CX'"}], "mark": {"type": "tick", "orient": "vertical", "size": 7, "thickness": 1.5, "color": "black"},
 "encoding": {"x": {"field": "t", "type": "nominal"}, "xOffset": {"field": "grp", "type": "nominal"}, "y": {"field": "y", "type": "quantitative"}}},
{"data": {"name": "sigB"}, "transform": [{"filter": "datum.c === 'CX' && datum.grp === 'Healthy'"}], "mark": {"type": "tick", "orient": "horizontal", "size": 26.7, "thickness": 1.5, "color": "black"},
 "encoding": {"x": {"field": "t", "type": "nominal"}, "y": {"field": "y", "type": "quantitative"}}},
{"data": {"name": "sigB"}, "transform": [{"filter": "datum.c === 'CX' && datum.grp === 'Healthy'"}], "mark": {"type": "text", "baseline": "bottom", "dy": -2, "fontSize": 12, "color": "black"},
 "encoding": {"x": {"field": "t", "type": "nominal"}, "y": {"field": "y", "type": "quantitative"}, "text": {"field": "lab"}}}
]
},
{
"width": 164, "height": 260,
"layer": [
{"data": {"name": "fold"}, "transform": [{"filter": "datum.c === 'GM'"}], "mark": {"type": "bar", "stroke": "black", "strokeWidth": 1.5},
 "encoding": {"x": {"field": "t", "type": "nominal", "scale": {"domain": ["-", "+ 1,25(OH)₂D3"], "range": [14, 164], "paddingInner": 0, "paddingOuter": 0}, "axis": {"title": null, "labelAngle": 0, "labelFontWeight": "bold", "labelFontSize": 11, "labelPadding": 4}},
  "xOffset": {"field": "grp", "type": "nominal", "scale": {"domain": ["Healthy", "Asthmatic"], "paddingInner": 0.19, "paddingOuter": 0.48}},
  "y": {"field": "m", "type": "quantitative", "scale": {"domain": [0, 4], "range": [260, 104], "nice": false}, "axis": {"values": [0, 1, 2, 3, 4], "format": ".1f", "offset": -14, "title": ["GM-CSF fold-increase upon", "NIST stimulation"], "titleFontSize": 13, "titleLineHeight": 17, "titlePadding": 12}},
  "color": {"field": "grp", "type": "nominal"}}},
{"data": {"name": "fold"}, "transform": [{"filter": "datum.c === 'GM'"}], "mark": {"type": "rule", "strokeWidth": 1.5},
 "encoding": {"x": {"field": "t", "type": "nominal"}, "xOffset": {"field": "grp", "type": "nominal"}, "y": {"field": "lo", "type": "quantitative"}, "y2": {"field": "hi"}, "stroke": {"condition": {"test": "datum.grp === 'Healthy'", "value": "#555555"}, "value": "black"}}},
{"data": {"name": "fold"}, "transform": [{"filter": "datum.c === 'GM'"}], "mark": {"type": "tick", "orient": "horizontal", "size": 13, "thickness": 1.5},
 "encoding": {"x": {"field": "t", "type": "nominal"}, "xOffset": {"field": "grp", "type": "nominal"}, "y": {"field": "lo", "type": "quantitative"}, "fill": {"condition": {"test": "datum.grp === 'Healthy'", "value": "#555555"}, "value": "black"}}},
{"data": {"name": "fold"}, "transform": [{"filter": "datum.c === 'GM'"}], "mark": {"type": "tick", "orient": "horizontal", "size": 13, "thickness": 1.5},
 "encoding": {"x": {"field": "t", "type": "nominal"}, "xOffset": {"field": "grp", "type": "nominal"}, "y": {"field": "hi", "type": "quantitative"}, "fill": {"condition": {"test": "datum.grp === 'Healthy'", "value": "#555555"}, "value": "black"}}},
{"data": {"name": "sigB"}, "transform": [{"filter": "datum.c === 'GM'"}], "mark": {"type": "tick", "orient": "vertical", "size": 7, "thickness": 1.5, "color": "black"},
 "encoding": {"x": {"field": "t", "type": "nominal"}, "xOffset": {"field": "grp", "type": "nominal"}, "y": {"field": "y", "type": "quantitative"}}},
{"data": {"name": "sigB"}, "transform": [{"filter": "datum.c === 'GM' && datum.grp === 'Healthy'"}], "mark": {"type": "tick", "orient": "horizontal", "size": 27, "thickness": 1.5, "color": "black"},
 "encoding": {"x": {"field": "t", "type": "nominal"}, "y": {"field": "y", "type": "quantitative"}}},
{"data": {"name": "sigB"}, "transform": [{"filter": "datum.c === 'GM' && datum.grp === 'Healthy'"}], "mark": {"type": "text", "baseline": "bottom", "dy": -2, "fontSize": 12, "color": "black"},
 "encoding": {"x": {"field": "t", "type": "nominal"}, "y": {"field": "y", "type": "quantitative"}, "text": {"field": "lab"}}}
]
},
{
"width": 159, "height": 262,
"title": {"text": "C", "anchor": "start", "frame": "group", "font": "Lato", "fontSize": 33, "fontWeight": "bold", "color": "black", "offset": 0, "dx": -51, "dy": 102, "baseline": "alphabetic"},
"layer": [
{"data": {"name": "supp"}, "transform": [{"filter": "datum.c === 'IL6'"}], "mark": {"type": "bar", "fill": "white", "stroke": "black", "strokeWidth": 1.5},
 "encoding": {"x": {"field": "grp", "type": "nominal", "scale": {"domain": ["Healthy", "Asthmatic"], "range": [9, 159], "paddingInner": 0.32, "paddingOuter": 0.16}, "axis": {"title": null, "labelAngle": 0, "labelFontSize": 14, "labelPadding": 4}},
  "y": {"field": "m", "type": "quantitative", "scale": {"domain": [0, 80], "range": [262, 99], "nice": false}, "axis": {"values": [0, 20, 40, 60, 80], "format": ".1f", "offset": -9, "title": ["% Suppression by", "1,25(OH)₂D3 of IL-6"], "titleFontSize": 14, "titleLineHeight": 23, "titlePadding": 10}}}},
{"data": {"name": "supp"}, "transform": [{"filter": "datum.c === 'IL6'"}], "mark": {"type": "rule", "strokeWidth": 1.5, "color": "black"}, "encoding": {"x": {"field": "grp", "type": "nominal"}, "y": {"field": "lo", "type": "quantitative"}, "y2": {"field": "hi"}}},
{"data": {"name": "supp"}, "transform": [{"filter": "datum.c === 'IL6'"}], "mark": {"type": "tick", "orient": "horizontal", "size": 27, "thickness": 1.5, "color": "black"}, "encoding": {"x": {"field": "grp", "type": "nominal"}, "y": {"field": "lo", "type": "quantitative"}}},
{"data": {"name": "supp"}, "transform": [{"filter": "datum.c === 'IL6'"}], "mark": {"type": "tick", "orient": "horizontal", "size": 27, "thickness": 1.5, "color": "black"}, "encoding": {"x": {"field": "grp", "type": "nominal"}, "y": {"field": "hi", "type": "quantitative"}}},
{"data": {"name": "sigC"}, "transform": [{"filter": "datum.c === 'IL6'"}], "mark": {"type": "rule", "strokeWidth": 1.5, "color": "black"}, "encoding": {"x": {"field": "from", "type": "nominal", "bandPosition": 0.5}, "x2": {"field": "to", "bandPosition": 0.5}, "y": {"field": "y", "type": "quantitative"}}},
{"data": {"name": "sigC"}, "transform": [{"filter": "datum.c === 'IL6'"}], "mark": {"type": "tick", "orient": "vertical", "size": 7, "thickness": 1.5, "color": "black"}, "encoding": {"x": {"field": "from", "type": "nominal"}, "y": {"field": "y", "type": "quantitative"}}},
{"data": {"name": "sigC"}, "transform": [{"filter": "datum.c === 'IL6'"}], "mark": {"type": "tick", "orient": "vertical", "size": 7, "thickness": 1.5, "color": "black"}, "encoding": {"x": {"field": "to", "type": "nominal"}, "y": {"field": "y", "type": "quantitative"}}},
{"data": {"name": "sigC"}, "transform": [{"filter": "datum.c === 'IL6'"}], "mark": {"type": "text", "baseline": "bottom", "dy": -2, "fontSize": 12, "color": "black"}, "encoding": {"x": {"field": "from", "type": "nominal", "bandPosition": 1.235}, "y": {"field": "y", "type": "quantitative"}, "text": {"field": "lab"}}}
]
},
{
"width": 155, "height": 262,
"layer": [
{"data": {"name": "supp"}, "transform": [{"filter": "datum.c === 'CX'"}], "mark": {"type": "bar", "fill": "white", "stroke": "black", "strokeWidth": 1.5},
 "encoding": {"x": {"field": "grp", "type": "nominal", "scale": {"domain": ["Healthy", "Asthmatic"], "range": [7, 155], "paddingInner": 0.32, "paddingOuter": 0.16}, "axis": {"title": null, "labelAngle": 0, "labelFontSize": 14, "labelPadding": 4}},
  "y": {"field": "m", "type": "quantitative", "scale": {"domain": [-40, 40], "range": [262, 102], "nice": false}, "axis": {"values": [-40, -20, 0, 20, 40], "format": ".1f", "offset": -7, "title": ["% Suppression by", "1,25(OH)₂D3 of CXCL8"], "titleFontSize": 14, "titleLineHeight": 23, "titlePadding": 8}}}},
{"data": {"name": "sigC"}, "transform": [{"filter": "datum.c === 'CX'"}], "mark": {"type": "rule", "strokeWidth": 1.5, "color": "black"}, "encoding": {"x": {"datum": "Healthy", "bandPosition": -0.235}, "x2": {"datum": "Asthmatic", "bandPosition": 1.235}, "y": {"datum": 0}}},
{"data": {"name": "supp"}, "transform": [{"filter": "datum.c === 'CX'"}], "mark": {"type": "rule", "strokeWidth": 1.5, "color": "black"}, "encoding": {"x": {"field": "grp", "type": "nominal"}, "y": {"field": "lo", "type": "quantitative"}, "y2": {"field": "hi"}}},
{"data": {"name": "supp"}, "transform": [{"filter": "datum.c === 'CX'"}], "mark": {"type": "tick", "orient": "horizontal", "size": 27, "thickness": 1.5, "color": "black"}, "encoding": {"x": {"field": "grp", "type": "nominal"}, "y": {"field": "lo", "type": "quantitative"}}},
{"data": {"name": "supp"}, "transform": [{"filter": "datum.c === 'CX'"}], "mark": {"type": "tick", "orient": "horizontal", "size": 27, "thickness": 1.5, "color": "black"}, "encoding": {"x": {"field": "grp", "type": "nominal"}, "y": {"field": "hi", "type": "quantitative"}}},
{"data": {"name": "sigC"}, "transform": [{"filter": "datum.c === 'CX'"}], "mark": {"type": "rule", "strokeWidth": 1.5, "color": "black"}, "encoding": {"x": {"field": "from", "type": "nominal", "bandPosition": 0.5}, "x2": {"field": "to", "bandPosition": 0.5}, "y": {"field": "y", "type": "quantitative"}}},
{"data": {"name": "sigC"}, "transform": [{"filter": "datum.c === 'CX'"}], "mark": {"type": "tick", "orient": "vertical", "size": 7, "thickness": 1.5, "color": "black"}, "encoding": {"x": {"field": "from", "type": "nominal"}, "y": {"field": "y", "type": "quantitative"}}},
{"data": {"name": "sigC"}, "transform": [{"filter": "datum.c === 'CX'"}], "mark": {"type": "tick", "orient": "vertical", "size": 7, "thickness": 1.5, "color": "black"}, "encoding": {"x": {"field": "to", "type": "nominal"}, "y": {"field": "y", "type": "quantitative"}}},
{"data": {"name": "sigC"}, "transform": [{"filter": "datum.c === 'CX'"}], "mark": {"type": "text", "baseline": "bottom", "dy": -2, "fontSize": 12, "color": "black"}, "encoding": {"x": {"field": "from", "type": "nominal", "bandPosition": 1.235}, "y": {"field": "y", "type": "quantitative"}, "text": {"field": "lab"}}}
]
},
{
"width": 166, "height": 262,
"layer": [
{"data": {"name": "supp"}, "transform": [{"filter": "datum.c === 'GM'"}], "mark": {"type": "bar", "fill": "white", "stroke": "black", "strokeWidth": 1.5},
 "encoding": {"x": {"field": "grp", "type": "nominal", "scale": {"domain": ["Healthy", "Asthmatic"], "range": [19, 166], "paddingInner": 0.32, "paddingOuter": 0.16}, "axis": {"title": null, "labelAngle": 0, "labelFontSize": 14, "labelPadding": 4}},
  "y": {"field": "m", "type": "quantitative", "scale": {"domain": [-40, 60], "range": [262, 102], "nice": false}, "axis": {"values": [-40, -20, 0, 20, 40, 60], "format": ".1f", "offset": -19, "title": ["% Suppression by", "1,25(OH)₂D3 of GM-CSF"], "titleFontSize": 14, "titleLineHeight": 23, "titlePadding": 8}}}},
{"data": {"name": "sigC"}, "transform": [{"filter": "datum.c === 'GM'"}], "mark": {"type": "rule", "strokeWidth": 1.5, "color": "black"}, "encoding": {"x": {"datum": "Healthy", "bandPosition": -0.235}, "x2": {"datum": "Asthmatic", "bandPosition": 1.235}, "y": {"datum": 0}}},
{"data": {"name": "supp"}, "transform": [{"filter": "datum.c === 'GM'"}], "mark": {"type": "rule", "strokeWidth": 1.5}, "encoding": {"x": {"field": "grp", "type": "nominal"}, "y": {"field": "lo", "type": "quantitative"}, "y2": {"field": "hi"}, "stroke": {"condition": {"test": "datum.grp === 'Healthy'", "value": "#555555"}, "value": "black"}}},
{"data": {"name": "supp"}, "transform": [{"filter": "datum.c === 'GM'"}], "mark": {"type": "tick", "orient": "horizontal", "size": 27, "thickness": 1.5}, "encoding": {"x": {"field": "grp", "type": "nominal"}, "y": {"field": "lo", "type": "quantitative"}, "fill": {"condition": {"test": "datum.grp === 'Healthy'", "value": "#555555"}, "value": "black"}}},
{"data": {"name": "supp"}, "transform": [{"filter": "datum.c === 'GM'"}], "mark": {"type": "tick", "orient": "horizontal", "size": 27, "thickness": 1.5}, "encoding": {"x": {"field": "grp", "type": "nominal"}, "y": {"field": "hi", "type": "quantitative"}, "fill": {"condition": {"test": "datum.grp === 'Healthy'", "value": "#555555"}, "value": "black"}}},
{"data": {"name": "sigC"}, "transform": [{"filter": "datum.c === 'GM'"}], "mark": {"type": "rule", "strokeWidth": 1.5, "color": "black"}, "encoding": {"x": {"field": "from", "type": "nominal", "bandPosition": 0.5}, "x2": {"field": "to", "bandPosition": 0.5}, "y": {"field": "y", "type": "quantitative"}}},
{"data": {"name": "sigC"}, "transform": [{"filter": "datum.c === 'GM'"}], "mark": {"type": "tick", "orient": "vertical", "size": 7, "thickness": 1.5, "color": "black"}, "encoding": {"x": {"field": "from", "type": "nominal"}, "y": {"field": "y", "type": "quantitative"}}},
{"data": {"name": "sigC"}, "transform": [{"filter": "datum.c === 'GM'"}], "mark": {"type": "tick", "orient": "vertical", "size": 7, "thickness": 1.5, "color": "black"}, "encoding": {"x": {"field": "to", "type": "nominal"}, "y": {"field": "y", "type": "quantitative"}}},
{"data": {"name": "sigC"}, "transform": [{"filter": "datum.c === 'GM'"}], "mark": {"type": "text", "baseline": "bottom", "dy": -2, "fontSize": 12, "color": "black"}, "encoding": {"x": {"field": "from", "type": "nominal", "bandPosition": 1.235}, "y": {"field": "y", "type": "quantitative"}, "text": {"field": "lab"}}}
]
}
],
"config": {
"view": {"stroke": null},
"font": "Liberation Sans",
"axis": {"domainColor": "black", "domainWidth": 1.5, "tickColor": "black", "tickWidth": 1.5, "tickSize": 5, "labelColor": "black", "labelFont": "Liberation Sans", "labelFontSize": 12, "titleFont": "Liberation Sans", "titleFontWeight": "normal", "titleColor": "black", "grid": false},
"text": {"font": "Liberation Sans"}
}
}
